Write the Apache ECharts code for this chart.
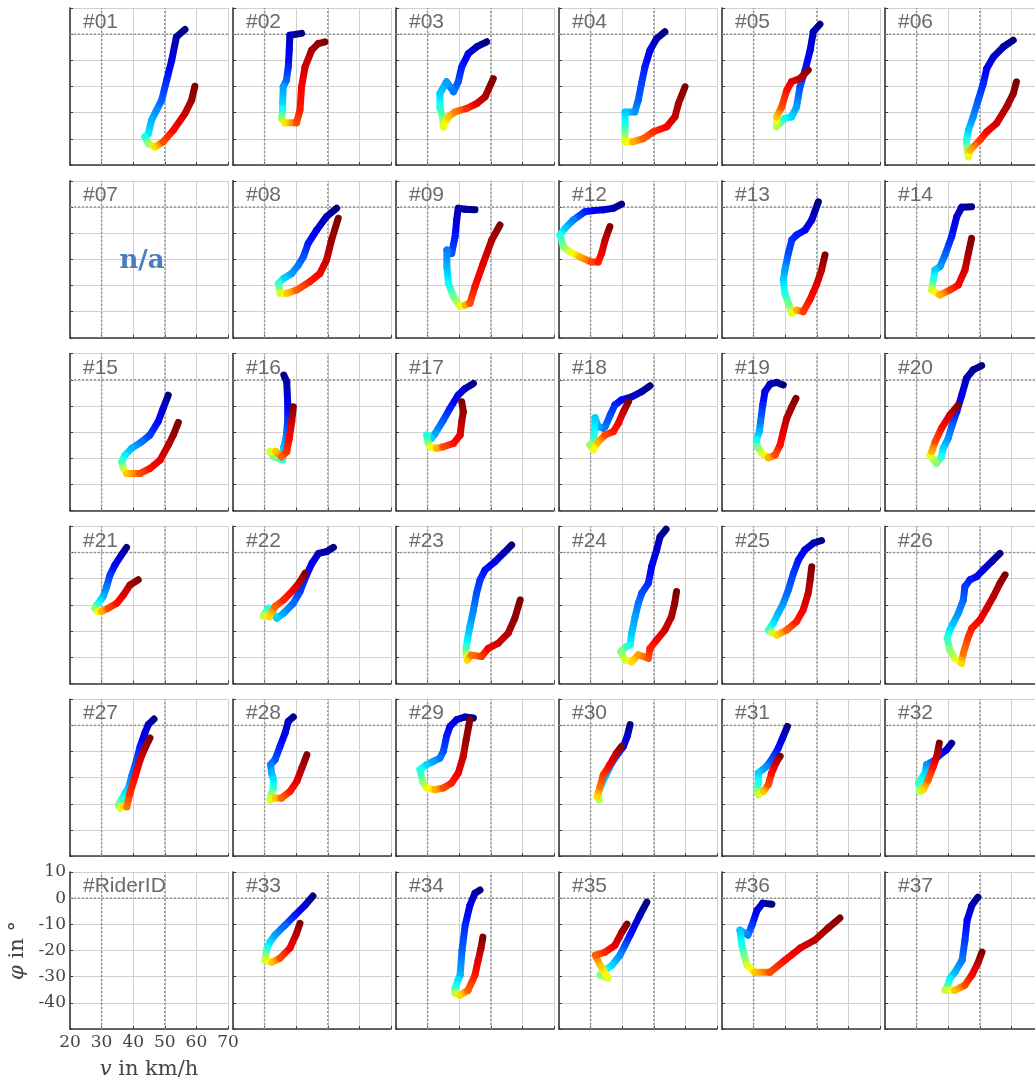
<!DOCTYPE html>
<html><head><meta charset="utf-8">
<script src="https://cdn.jsdelivr.net/npm/echarts@6/dist/echarts.min.js"></script>
<style>html,body{margin:0;padding:0;background:#fff}#c{width:1035px;height:1084px}</style>
</head><body><div id="c"></div><script>
// axis ticks
const xTicks=[20,30,40,50,60,70];
const yTicks=[10,0,-10,-20,-30,-40,-50];
// each point: [v (km/h), phi (deg), colour position along ride 0..1]
const rider01=[[56.4,1.8,0],[53.7,-1.0,0.04],[52.2,-9.9,0.1],[50.6,-17.6,0.16],[49.0,-25.2,0.22],[47.4,-29.0,0.26],[45.8,-32.9,0.3],[44.8,-38.0,0.35],[43.7,-39.2,0.4],[44.8,-41.8,0.52],[46.9,-43.1,0.66],[49.5,-41.1,0.8],[52.7,-36.7,0.87],[56.4,-30.3,0.93],[58.5,-25.2,0.97],[59.5,-19.9,1]];
const rider02=[[41.7,0.3,0],[38.0,-0.4,0.05],[37.8,-6.1,0.1],[37.5,-12.5,0.16],[36.9,-17.6,0.22],[35.9,-20.1,0.28],[35.7,-26.5,0.34],[35.7,-29.0,0.4],[35.4,-32.2,0.52],[36.4,-33.9,0.65],[40.1,-33.9,0.8],[41.2,-29.0,0.85],[41.7,-20.1,0.88],[42.8,-12.5,0.92],[44.9,-6.1,0.96],[47.0,-3.6,0.98],[49.1,-2.9,1]];
const rider03=[[48.7,-2.9,0],[45.6,-4.8,0.05],[42.9,-7.4,0.1],[40.8,-12.5,0.15],[39.7,-18.2,0.2],[38.2,-22.0,0.24],[36.0,-18.2,0.28],[33.9,-22.7,0.33],[33.9,-27.8,0.4],[34.8,-32.2,0.5],[35.0,-35.4,0.6],[36.6,-31.6,0.68],[38.7,-29.7,0.75],[42.4,-28.4,0.83],[45.6,-26.5,0.9],[48.2,-23.9,0.95],[50.8,-17.0,1]];
const rider04=[[53.5,0.9,0],[50.9,-1.7,0.05],[48.8,-6.1,0.1],[47.2,-12.5,0.15],[46.1,-18.9,0.19],[45.1,-25.2,0.22],[44.0,-29.7,0.27],[40.9,-29.7,0.32],[40.9,-35.4,0.42],[40.9,-41.1,0.6],[43.5,-41.1,0.7],[46.7,-39.9,0.78],[49.9,-37.3,0.83],[54.1,-35.4,0.88],[56.7,-31.6,0.93],[57.8,-26.5,0.96],[59.9,-20.1,1]];
const rider05=[[51.0,3.8,0],[48.9,0.9,0.05],[47.9,-6.1,0.1],[46.3,-13.7,0.15],[44.7,-20.1,0.2],[43.6,-27.8,0.28],[42.0,-31.6,0.33],[39.9,-32.2,0.38],[37.3,-35.4,0.55],[37.3,-31.6,0.68],[38.9,-27.8,0.8],[40.5,-21.4,0.86],[42.0,-18.2,0.9],[44.7,-16.9,0.94],[47.3,-13.7,1]];
const rider06=[[60.6,-2.3,0],[57.5,-4.8,0.04],[54.3,-8.7,0.08],[52.2,-13.1,0.12],[51.1,-18.9,0.16],[49.5,-25.2,0.21],[47.9,-31.6,0.26],[46.4,-36.7,0.32],[45.8,-40.5,0.4],[46.0,-43.5,0.5],[46.4,-46.9,0.6],[46.9,-44.3,0.7],[50.0,-40.5,0.82],[52.2,-37.3,0.87],[55.3,-34.1,0.92],[58.5,-27.8,0.95],[60.6,-22.7,0.98],[61.6,-18.2,1]];
const rider08=[[52.8,-0.5,0],[49.6,-3.7,0.05],[46.5,-8.8,0.1],[43.8,-13.9,0.15],[42.3,-19.0,0.2],[40.7,-22.2,0.24],[38.6,-25.4,0.28],[36.0,-27.3,0.33],[34.4,-29.2,0.42],[34.9,-33.0,0.58],[37.0,-33.0,0.68],[40.2,-31.7,0.78],[44.4,-28.5,0.85],[47.5,-25.4,0.88],[49.6,-20.3,0.93],[51.2,-12.6,0.97],[53.3,-4.3,1]];
const rider09=[[45.0,-1.1,0],[41.9,-0.9,0.03],[39.7,-0.5,0.05],[39.2,-5.0,0.08],[38.7,-11.3,0.15],[37.6,-17.7,0.2],[36.1,-16.4,0.25],[36.1,-22.8,0.3],[36.6,-29.2,0.38],[38.2,-34.3,0.48],[40.3,-38.1,0.6],[41.9,-37.5,0.7],[43.4,-36.8,0.8],[45.0,-30.4,0.86],[47.6,-21.5,0.9],[50.3,-12.6,0.95],[52.9,-6.9,1]];
const rider12=[[39.8,1.1,0],[37.2,-0.5,0.04],[34.0,-1.1,0.08],[30.9,-1.4,0.12],[28.2,-1.8,0.15],[24.5,-5.0,0.25],[21.9,-8.2,0.32],[20.3,-10.7,0.4],[21.4,-15.2,0.5],[23.5,-17.2,0.6],[26.6,-19.1,0.7],[30.3,-21.0,0.8],[32.4,-21.0,0.85],[33.5,-17.7,0.88],[34.6,-12.6,0.93],[36.1,-7.5,1]];
const rider13=[[50.5,2.0,0],[48.4,-5.0,0.08],[46.3,-8.8,0.12],[43.6,-10.7,0.15],[42.1,-12.6,0.17],[41.0,-17.7,0.2],[39.9,-24.1,0.28],[39.4,-27.9,0.33],[39.9,-33.0,0.4],[41.0,-36.8,0.48],[42.1,-40.6,0.6],[43.6,-39.4,0.7],[45.7,-40.0,0.82],[47.8,-35.5,0.86],[49.9,-29.8,0.9],[51.5,-24.1,0.94],[52.6,-18.3,1]];
const rider14=[[47.4,0.1,0],[44.3,-0.1,0.04],[42.7,-3.7,0.08],[41.1,-11.3,0.15],[39.0,-18.3,0.22],[37.4,-22.8,0.28],[35.8,-24.1,0.33],[35.3,-27.9,0.42],[34.7,-31.7,0.58],[37.4,-33.6,0.7],[40.6,-31.7,0.82],[43.2,-29.8,0.88],[45.3,-24.1,0.92],[46.4,-17.7,0.96],[47.4,-12.0,1]];
const rider15=[[51.1,-5.9,0],[49.5,-10.9,0.08],[47.9,-16.0,0.13],[45.3,-21.1,0.18],[42.7,-23.7,0.24],[39.5,-26.2,0.3],[37.4,-28.8,0.36],[36.4,-31.3,0.44],[36.9,-33.9,0.55],[37.9,-35.8,0.68],[42.2,-35.8,0.8],[45.3,-33.9,0.86],[48.5,-30.7,0.9],[51.1,-25.0,0.94],[52.7,-21.1,0.97],[54.3,-16.3,1]];
const rider16=[[36.1,1.8,0],[37.0,-0.7,0.04],[37.3,-8.4,0.1],[37.3,-16.0,0.18],[36.8,-22.4,0.25],[36.1,-25.6,0.3],[35.7,-30.6,0.42],[32.8,-29.4,0.5],[31.7,-27.4,0.58],[33.6,-27.4,0.68],[35.4,-29.4,0.78],[37.0,-27.5,0.83],[37.8,-22.4,0.87],[38.6,-16.0,0.92],[39.1,-10.3,1]];
const rider17=[[44.5,-1.4,0],[41.8,-3.4,0.06],[39.7,-5.8,0.1],[37.1,-10.9,0.15],[35.0,-15.4,0.21],[32.4,-20.5,0.28],[31.3,-22.4,0.33],[29.7,-21.1,0.4],[30.2,-24.3,0.5],[30.8,-25.6,0.6],[32.9,-26.2,0.7],[35.0,-25.6,0.8],[38.2,-24.3,0.86],[40.3,-21.1,0.9],[40.8,-16.0,0.94],[41.3,-12.2,0.97],[40.8,-8.4,1]];
const rider18=[[48.8,-2.3,0],[46.2,-4.5,0.04],[43.0,-6.5,0.08],[39.8,-7.7,0.12],[37.7,-9.6,0.16],[36.2,-13.5,0.2],[34.6,-17.9,0.23],[34.0,-18.5,0.25],[32.4,-17.9,0.29],[31.4,-14.5,0.33],[31.2,-19.8,0.38],[30.9,-23.7,0.45],[29.8,-24.9,0.52],[30.9,-26.8,0.6],[32.4,-23.7,0.7],[34.6,-21.1,0.8],[37.2,-19.8,0.85],[38.8,-16.6,0.88],[40.4,-12.2,0.93],[42.0,-8.4,1]];
const rider19=[[39.4,-2.0,0],[37.3,-1.0,0.03],[35.2,-1.7,0.06],[33.6,-4.5,0.1],[32.9,-9.6,0.16],[32.2,-16.0,0.24],[31.8,-19.8,0.3],[30.9,-23.0,0.38],[31.1,-25.5,0.48],[32.6,-28.1,0.58],[34.7,-29.8,0.7],[36.8,-28.8,0.8],[38.4,-24.9,0.86],[39.4,-19.8,0.9],[40.5,-14.7,0.94],[42.1,-10.3,0.97],[43.4,-7.1,1]];
const rider20=[[50.6,5.4,0],[47.9,3.8,0.03],[45.8,0.6,0.06],[44.3,-5.8,0.1],[42.7,-12.2,0.15],[41.1,-17.9,0.22],[40.0,-22.4,0.27],[38.4,-26.2,0.33],[37.9,-29.4,0.4],[36.3,-32.0,0.5],[34.2,-28.8,0.6],[34.8,-27.5,0.7],[35.9,-23.6,0.8],[37.9,-18.5,0.86],[40.5,-13.5,0.92],[43.2,-9.6,1]];
const rider21=[[37.9,2.0,0],[36.3,-0.9,0.06],[34.2,-4.8,0.12],[32.7,-8.5,0.18],[31.6,-13.0,0.24],[30.5,-16.8,0.3],[29.7,-18.1,0.34],[28.5,-20.0,0.42],[27.9,-21.3,0.5],[28.7,-22.5,0.6],[30.0,-22.5,0.7],[32.1,-21.3,0.8],[34.8,-19.4,0.86],[36.9,-16.2,0.9],[39.0,-12.4,0.95],[41.6,-10.4,1]];
const rider22=[[51.8,2.0,0],[49.7,0.4,0.03],[47.1,-0.3,0.06],[45.0,-4.1,0.1],[43.3,-8.5,0.14],[41.2,-14.9,0.18],[39.1,-19.4,0.23],[36.0,-23.2,0.28],[33.9,-25.1,0.33],[31.2,-21.3,0.4],[30.1,-23.2,0.48],[29.6,-24.2,0.56],[31.5,-24.5,0.66],[33.3,-20.6,0.78],[36.0,-18.1,0.84],[39.1,-14.3,0.88],[41.2,-11.1,0.93],[42.8,-7.9,1]];
const rider23=[[56.6,2.9,0],[54.0,-0.3,0.05],[51.4,-3.4,0.1],[48.2,-6.6,0.14],[46.6,-10.4,0.17],[45.5,-15.5,0.2],[44.5,-21.9,0.25],[43.4,-28.3,0.3],[42.6,-33.4,0.36],[42.2,-36.6,0.44],[42.2,-39.2,0.56],[42.6,-41.1,0.66],[43.9,-39.2,0.76],[47.1,-39.7,0.82],[49.2,-36.6,0.88],[52.4,-34.6,0.92],[55.5,-30.8,0.95],[57.6,-25.1,0.98],[59.3,-18.1,1]];
const rider24=[[53.9,8.9,0],[52.0,6.1,0.04],[50.9,1.0,0.08],[49.3,-5.4,0.12],[48.3,-11.7,0.16],[46.2,-15.5,0.2],[45.1,-19.4,0.24],[44.1,-24.5,0.28],[43.0,-30.8,0.32],[42.5,-35.3,0.37],[41.4,-35.9,0.42],[39.5,-37.8,0.5],[40.9,-41.0,0.58],[43.0,-41.7,0.66],[45.1,-39.1,0.72],[48.3,-40.4,0.8],[48.8,-36.6,0.84],[50.9,-33.4,0.88],[53.5,-29.6,0.92],[55.6,-24.5,0.95],[56.6,-19.4,0.98],[57.2,-14.9,1]];
const rider25=[[51.5,4.6,0],[48.9,3.6,0.05],[46.2,1.0,0.1],[44.2,-2.8,0.14],[42.6,-7.9,0.18],[41.0,-14.3,0.22],[39.4,-19.4,0.27],[37.8,-23.2,0.3],[36.2,-27.0,0.35],[34.7,-29.6,0.44],[35.7,-30.6,0.56],[37.3,-31.5,0.66],[40.5,-29.6,0.78],[43.6,-26.4,0.85],[45.7,-21.9,0.89],[47.3,-15.5,0.93],[47.9,-10.4,0.96],[48.4,-5.4,1]];
const rider26=[[56.4,-0.3,0],[53.8,-3.4,0.05],[51.1,-6.6,0.09],[49.0,-9.2,0.12],[46.9,-10.4,0.15],[45.3,-13.0,0.18],[44.8,-18.1,0.22],[43.2,-23.2,0.27],[41.6,-27.0,0.31],[40.5,-29.6,0.35],[39.7,-32.7,0.42],[40.5,-37.2,0.5],[42.1,-40.4,0.58],[44.2,-42.3,0.66],[44.8,-38.5,0.76],[46.4,-32.1,0.82],[47.5,-28.9,0.85],[50.1,-25.7,0.88],[52.2,-21.3,0.91],[54.3,-16.8,0.94],[56.4,-11.7,0.97],[58.0,-8.5,1]];
const rider27=[[46.6,2.4,0],[44.8,0.3,0.06],[43.7,-2.9,0.1],[42.2,-8.0,0.15],[41.1,-13.1,0.2],[39.5,-19.5,0.25],[38.5,-24.0,0.3],[37.4,-25.9,0.35],[36.3,-28.4,0.42],[35.3,-30.4,0.5],[35.9,-31.7,0.58],[36.9,-31.0,0.66],[38.0,-31.1,0.76],[39.0,-25.9,0.83],[40.6,-19.5,0.87],[42.2,-13.1,0.92],[43.7,-8.7,0.96],[45.3,-4.8,1]];
const rider28=[[39.1,3.2,0],[37.5,1.5,0.06],[36.5,-2.9,0.1],[34.9,-8.0,0.15],[33.3,-13.1,0.2],[31.9,-15.0,0.25],[32.2,-18.2,0.3],[32.8,-20.8,0.35],[32.8,-24.0,0.42],[32.2,-25.9,0.5],[31.7,-28.5,0.58],[33.3,-27.8,0.68],[35.4,-27.8,0.78],[38.1,-25.2,0.85],[40.2,-21.4,0.9],[41.8,-16.3,0.95],[43.4,-11.2,1]];
const rider29=[[44.5,2.8,0],[41.8,3.2,0.04],[39.2,2.2,0.08],[37.1,-0.4,0.12],[36.0,-4.2,0.15],[35.0,-9.9,0.2],[33.9,-12.5,0.24],[31.8,-13.8,0.28],[29.7,-15.0,0.33],[27.6,-16.9,0.4],[28.4,-21.4,0.5],[29.7,-23.9,0.6],[32.4,-24.6,0.7],[35.0,-23.9,0.8],[37.6,-22.0,0.85],[39.7,-18.2,0.89],[41.3,-11.8,0.93],[42.2,-5.5,0.97],[43.4,2.2,1]];
const rider30=[[42.5,0.3,0],[41.6,-4.2,0.08],[40.4,-8.0,0.12],[38.8,-10.6,0.18],[36.7,-14.4,0.24],[34.6,-19.5,0.3],[33.5,-22.6,0.36],[32.4,-25.9,0.44],[32.7,-28.4,0.55],[32.1,-27.2,0.66],[33.0,-23.4,0.76],[34.0,-18.9,0.82],[36.1,-15.0,0.88],[38.2,-10.6,0.94],[39.8,-8.0,1]];
const rider31=[[40.7,-0.4,0],[39.4,-4.2,0.08],[37.8,-8.7,0.14],[35.7,-13.1,0.2],[34.1,-15.7,0.26],[31.5,-18.2,0.33],[31.5,-22.0,0.4],[31.0,-25.2,0.5],[31.5,-26.5,0.58],[33.1,-25.2,0.68],[34.7,-22.6,0.8],[35.7,-18.2,0.86],[37.3,-13.8,0.93],[38.4,-11.8,1]];
const rider32=[[41.1,-6.8,0],[39.5,-9.3,0.08],[37.4,-11.2,0.14],[35.3,-13.7,0.2],[33.2,-15.0,0.27],[32.7,-18.2,0.33],[30.6,-22.0,0.42],[31.1,-25.2,0.56],[32.1,-24.6,0.66],[33.7,-20.8,0.78],[35.3,-15.7,0.86],[36.4,-11.8,0.93],[37.2,-6.8,1]];
const rider33=[[45.3,0.8,0],[42.8,-2.7,0.08],[39.6,-6.5,0.15],[36.5,-10.3,0.22],[33.3,-14.1,0.28],[31.7,-16.8,0.34],[30.8,-19.1,0.4],[30.4,-21.8,0.5],[30.1,-23.7,0.58],[32.4,-24.5,0.68],[34.9,-22.9,0.8],[38.0,-19.1,0.88],[39.9,-14.1,0.94],[41.2,-9.6,1]];
const rider34=[[46.6,3.1,0],[45.0,1.9,0.04],[43.4,-2.7,0.1],[41.9,-10.3,0.16],[40.9,-19.9,0.22],[40.3,-29.4,0.3],[39.6,-31.3,0.35],[38.7,-34.4,0.42],[38.7,-36.3,0.55],[40.3,-37.1,0.66],[42.8,-35.2,0.78],[45.0,-29.4,0.85],[46.0,-23.7,0.9],[46.9,-19.1,0.95],[47.5,-14.9,1]];
const rider35=[[47.8,-1.5,0],[45.6,-6.5,0.06],[42.5,-14.1,0.14],[40.9,-18.0,0.2],[39.3,-21.8,0.26],[36.8,-25.6,0.33],[34.6,-27.5,0.4],[33.0,-29.4,0.5],[35.6,-30.6,0.6],[33.0,-25.6,0.68],[31.5,-21.8,0.78],[34.6,-20.6,0.84],[37.7,-18.0,0.9],[39.9,-13.0,0.95],[41.5,-9.9,1]];
const rider36=[[35.8,-2.3,0],[32.9,-1.9,0.05],[31.1,-4.6,0.1],[29.5,-10.3,0.18],[28.2,-14.1,0.25],[25.7,-12.2,0.32],[26.3,-18.0,0.4],[27.0,-21.8,0.48],[27.9,-25.6,0.58],[30.4,-28.3,0.68],[35.2,-28.3,0.8],[39.9,-23.7,0.86],[44.7,-19.1,0.9],[49.4,-16.0,0.94],[53.5,-11.5,0.97],[57.3,-7.6,1]];
const rider37=[[49.4,0.4,0],[47.5,-2.7,0.06],[46.0,-8.4,0.12],[45.3,-16.0,0.18],[44.4,-23.7,0.24],[42.1,-28.3,0.3],[40.6,-30.6,0.36],[39.9,-33.2,0.44],[39.0,-35.2,0.56],[42.1,-35.2,0.68],[45.3,-33.2,0.8],[47.5,-29.4,0.87],[49.4,-24.8,0.94],[50.7,-20.6,1]];

const panelLabels=['#01','#02','#03','#04','#05','#06','#07','#08','#09','#12','#13','#14','#15','#16','#17','#18','#19','#20','#21','#22','#23','#24','#25','#26','#27','#28','#29','#30','#31','#32','#RiderID','#33','#34','#35','#36','#37'];
const panelData=[rider01,rider02,rider03,rider04,rider05,rider06,null,rider08,rider09,rider12,rider13,rider14,rider15,rider16,rider17,rider18,rider19,rider20,rider21,rider22,rider23,rider24,rider25,rider26,rider27,rider28,rider29,rider30,rider31,rider32,null,rider33,rider34,rider35,rider36,rider37];

function jet(t){
  const c=x=>Math.max(0,Math.min(1,x));
  const r=c(Math.min(4*t-1.5,-4*t+4.5)),g=c(Math.min(4*t-0.5,-4*t+3.5)),b=c(Math.min(4*t+0.5,-4*t+2.5));
  return 'rgb('+Math.round(r*255)+','+Math.round(g*255)+','+Math.round(b*255)+')';
}
function segs(pts){
  const out=[];
  for(let k=0;k<pts.length-1;k++){const a=pts[k],b=pts[k+1];out.push([a[0],a[1],b[0],b[1],a[2],b[2]]);}
  return out;
}
function renderSeg(params,api){
  const a=api.coord([api.value(0),api.value(1)]);
  const b=api.coord([api.value(2),api.value(3)]);
  const t1=api.value(4),t2=api.value(5);
  let gx=b[0],gy=b[1];
  if(Math.abs(gx-a[0])<0.01&&Math.abs(gy-a[1])<0.01){gx+=0.01;}
  const stops=[];
  for(let s=0;s<=4;s++){stops.push({offset:s/4,color:jet(t1+(t2-t1)*s/4)});}
  return {type:'line',shape:{x1:a[0],y1:a[1],x2:b[0],y2:b[1]},
    style:{stroke:{type:'linear',x:a[0],y:a[1],x2:gx,y2:gy,global:true,colorStops:stops},lineWidth:7,lineCap:'round',fill:null}};
}

const LEFT0=70,COLSTEP=163,TOP0=8,ROWSTEP=172.8,PW=158,PH=157;
const grids=[],xAxes=[],yAxes=[],series=[],titles=[],graphics=[];
const serif='"DejaVu Serif", serif';
const axisCol='#3a3a3a';
panelLabels.forEach((lab,i)=>{
  const r=Math.floor(i/6),c=i%6;
  const left=LEFT0+c*COLSTEP,top=TOP0+r*ROWSTEP;
  const isAxisPanel=(r===5&&c===0);
  grids.push({left:left,top:top,width:PW,height:PH,containLabel:false,outerBoundsMode:'none'});
  xAxes.push({gridIndex:i,type:'value',min:xTicks[0],max:xTicks[xTicks.length-1],interval:10,
    axisLine:{show:true,onZero:false,lineStyle:{color:axisCol,width:1.6}},
    axisTick:{show:true,inside:true,length:3,lineStyle:{color:axisCol,width:1}},
    axisLabel:{show:isAxisPanel,color:'#444',fontFamily:serif,fontSize:17,margin:5},
    splitLine:{show:true,lineStyle:{color:'#d0d0d0',width:1}},
    name:isAxisPanel?'{i|v} in km/h':'',nameLocation:'middle',nameGap:30,
    nameTextStyle:{fontFamily:serif,fontSize:21,color:'#444',rich:{i:{fontFamily:serif,fontStyle:'italic',fontSize:21,color:'#444'}}}
  });
  yAxes.push({gridIndex:i,type:'value',min:yTicks[yTicks.length-1],max:yTicks[0],interval:10,
    axisLine:{show:true,onZero:false,lineStyle:{color:axisCol,width:1.6}},
    axisTick:{show:true,inside:true,length:3,lineStyle:{color:axisCol,width:1}},
    axisLabel:{show:isAxisPanel,color:'#444',fontFamily:serif,fontSize:17,margin:4,formatter:v=>(v===-50?'':String(v))},
    splitLine:{show:true,lineStyle:{color:'#d0d0d0',width:1}},
    name:isAxisPanel?'{i|φ} in °':'',nameLocation:'middle',nameGap:42,
    nameTextStyle:{fontFamily:serif,fontSize:21,color:'#444',rich:{i:{fontFamily:serif,fontStyle:'italic',fontSize:21,color:'#444'}}}
  });
  const dots=[[[30,-50],[30,10]],[[50,-50],[50,10]],[[20,0],[70,0]]];
  dots.forEach(d=>series.push({type:'line',xAxisIndex:i,yAxisIndex:i,data:d,symbol:'none',silent:true,z:2,
    lineStyle:{color:'#959595',width:1.5,type:[2,2]}}));
  if(panelData[i]){
    series.push({type:'custom',xAxisIndex:i,yAxisIndex:i,data:segs(panelData[i]),renderItem:renderSeg,
      encode:{x:[0,2],y:[1,3]},silent:true,clip:false,z:3});
  }
  titles.push({text:lab,left:left+13,top:top+4,padding:0,
    textStyle:{fontFamily:'"Liberation Sans", Arial, sans-serif',fontSize:21,fontWeight:'normal',color:'#6b6b6b'}});
  if(lab==='#07'){
    graphics.push({type:'text',x:left+72,y:top+80,z:10,
      style:{text:'n/a',font:'bold 26px "DejaVu Serif", serif',fill:'#4a7dbb',align:'center',verticalAlign:'middle',textAlign:'center',textVerticalAlign:'middle'}});
  }
});

const chart=echarts.init(document.getElementById('c'),null,{renderer:'canvas'});
chart.setOption({animation:false,backgroundColor:'#fff',title:titles,grid:grids,xAxis:xAxes,yAxis:yAxes,series:series,graphic:graphics});
</script></body></html>
